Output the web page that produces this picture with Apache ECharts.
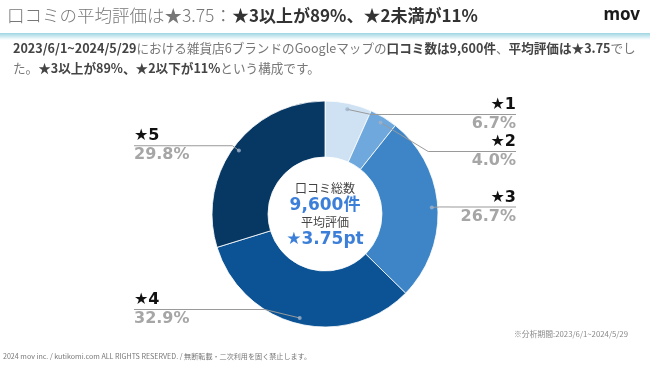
<!DOCTYPE html>
<html>
<head>
<meta charset="utf-8">
<script src="https://cdn.jsdelivr.net/npm/echarts@6/dist/echarts.min.js"></script>
<style>
html,body{margin:0;padding:0;background:#fff;}
#chart{width:650px;height:366px;}
</style>
</head>
<body>
<div id="chart"></div>
<script>
// ---- data ----
const categories = ['★1', '★2', '★3', '★4', '★5'];
const shares = [6.7, 4.0, 26.7, 32.9, 29.8];
const colors = ['#cfe2f3', '#6fa8dc', '#3d85c6', '#0b5394', '#073763'];
const centerLines = ['口コミ総数', '9,600件', '平均評価', '★3.75pt'];

const JP = '"Noto Sans CJK JP", "Noto Sans", sans-serif';
const NUM = '"DejaVu Sans", "Noto Sans CJK JP", sans-serif';

const total = shares.reduce((a, b) => a + b, 0);
const mids = [];
let acc = 0;
shares.forEach(v => { mids.push(acc + v / 2); acc += v; });

const CX = 325, CY = 214, R_OUT = 113, R_IN = 57, R_DOT = 107;
const LBL_TOP = 96, LBL_BOTTOM = 38;

const chart = echarts.init(document.getElementById('chart'));

const labelData = categories.map((c, i) => {
  const right = mids[i] < total / 2;
  return {
    name: c,
    value: shares[i],
    label: {
      formatter: (right ? '{nr|' : '{nl|') + c + '}\n{l|}\n' + (right ? '{vr|' : '{vl|') + shares[i].toFixed(1) + '%}'
    }
  };
});

const rowName = { fontFamily: NUM, fontWeight: 'bold', fontSize: 16, color: '#111', lineHeight: 18 };
const rowVal = { fontFamily: NUM, fontWeight: 'bold', fontSize: 16, color: '#a6a6a6', lineHeight: 18 };

const option = {
  animation: false,
  backgroundColor: '#fff',
  polar: { center: [CX, CY], radius: R_OUT },
  angleAxis: { type: 'value', min: 0, max: total, startAngle: 90, clockwise: true, show: false },
  radiusAxis: { type: 'value', min: 0, max: R_OUT, show: false },
  graphic: [
    {
      type: 'rect', left: 0, top: 33, z: 1,
      shape: { width: 650, height: 7 },
      style: {
        fill: new echarts.graphic.LinearGradient(0, 0, 0, 1, [
          { offset: 0, color: '#9fd6e3' },
          { offset: 1, color: 'rgba(255,255,255,1)' }
        ])
      }
    },
    {
      type: 'text', left: 7, top: 7,
      style: {
        text: '{a|口コミの平均評価は★3.75：}{b|★3以上が89%、★2未満が11%}',
        rich: {
          a: { fontFamily: JP, fontSize: 17.5, fontWeight: 300, fill: '#777', lineHeight: 24 },
          b: { fontFamily: JP, fontSize: 17, fontWeight: 'bold', fill: '#333', lineHeight: 24 }
        }
      }
    },
    {
      type: 'text', right: 10, top: 7,
      style: { text: 'mov', fontFamily: '"Noto Sans", sans-serif', fontSize: 17, fontWeight: 'bold', fill: '#1a1a1a' }
    },
    {
      type: 'text', left: 13, top: 42,
      style: {
        text: '{b|2023/6/1~2024/5/29}{r|における雑貨店6ブランドのGoogleマップの}{b|口コミ数は9,600件}{r|、}{b|平均評価は★3.75}{r|でし}\n{r|た。}{b|★3以上が89%、★2以下が11%}{r|という構成です。}',
        rich: {
          b: { fontFamily: JP, fontSize: 12.6, fontWeight: 'bold', fill: '#444', lineHeight: 20 },
          r: { fontFamily: JP, fontSize: 12.6, fontWeight: 'normal', fill: '#777', lineHeight: 20 }
        }
      }
    },
    {
      type: 'text', x: CX, y: CY, z: 10,
      style: {
        text: '{a|' + centerLines[0] + '}\n{b|' + centerLines[1] + '}\n{a|' + centerLines[2] + '}\n{b|' + centerLines[3] + '}',
        align: 'center',
        verticalAlign: 'middle',
        rich: {
          a: { fontFamily: JP, fontSize: 12, fill: '#444', lineHeight: 17, align: 'center' },
          b: { fontFamily: NUM, fontSize: 17, fontWeight: 'bold', fill: '#3c7fd9', lineHeight: 17, align: 'center' }
        }
      }
    },
    {
      type: 'text', right: 22, top: 330,
      style: { text: '※分析期間:2023/6/1~2024/5/29', fontFamily: JP, fontSize: 7.8, fill: '#888' }
    },
    {
      type: 'text', left: 3, top: 353,
      style: { text: '2024 mov inc. / kutikomi.com ALL RIGHTS RESERVED. / 無断転載・二次利用を固く禁止します。', fontFamily: JP, fontSize: 7.1, fill: '#777' }
    }
  ],
  series: [
    {
      type: 'pie',
      center: [CX, CY],
      radius: [R_IN, R_OUT],
      startAngle: 90,
      clockwise: true,
      silent: true,
      label: { show: false },
      labelLine: { show: false },
      itemStyle: { borderColor: '#ffffff', borderWidth: 0.8 },
      data: categories.map((c, i) => ({ name: c, value: shares[i], itemStyle: { color: colors[i] } }))
    },
    {
      type: 'pie',
      left: 0,
      right: 0,
      top: LBL_TOP,
      bottom: LBL_BOTTOM,
      center: [CX, CY - LBL_TOP],
      radius: [0, R_DOT],
      startAngle: 90,
      clockwise: true,
      silent: true,
      z: 3,
      itemStyle: { color: 'rgba(0,0,0,0)' },
      label: {
        show: true,
        position: 'outside',
        alignTo: 'edge',
        edgeDistance: 134,
        distanceToLabelLine: 0,
        overflow: 'none',
        rich: {
          nr: Object.assign({ align: 'right' }, rowName),
          nl: Object.assign({ align: 'left' }, rowName),
          vr: Object.assign({ align: 'right' }, rowVal),
          vl: Object.assign({ align: 'left' }, rowVal),
          l: { width: 66, height: 1, lineHeight: 1, backgroundColor: '#9a9a9a' }
        }
      },
      labelLine: { show: true, length: 8, length2: 0, smooth: false, lineStyle: { color: '#9a9a9a', width: 1 } },
      data: labelData
    },
    {
      type: 'scatter',
      coordinateSystem: 'polar',
      silent: true,
      z: 5,
      symbol: 'circle',
      symbolSize: 4,
      itemStyle: { color: '#9fb3cc' },
      data: mids.map(m => [R_DOT, m])
    }
  ]
};
chart.setOption(option);
</script>
</body>
</html>
